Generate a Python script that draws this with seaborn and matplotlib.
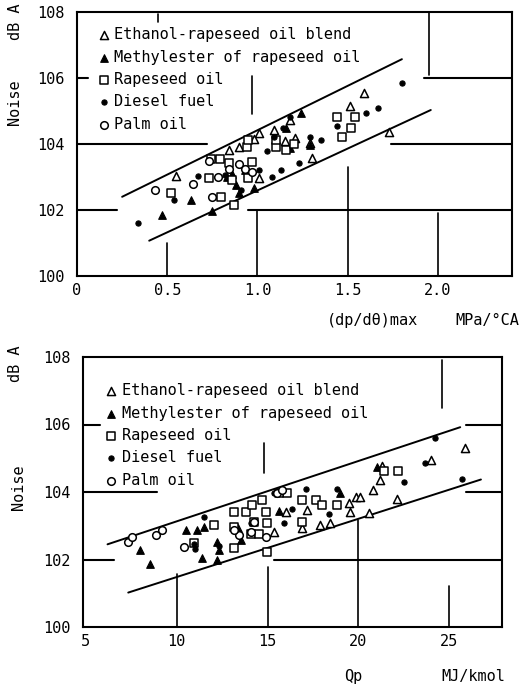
import matplotlib
matplotlib.use("Agg")
import matplotlib.pyplot as plt
import seaborn as sns
import pandas as pd

sns.set_theme(style="white")
plt.rcParams['font.family'] = ['DejaVu Sans Mono', 'DejaVu Sans']

fuels = ["Ethanol-rapeseed oil blend", "Methylester of rapeseed oil",
         "Rapeseed oil", "Diesel fuel", "Palm oil"]

# ---------- top panel: (dp/dθ)max ----------
eth_x1 = [0.55, 0.84, 1.01, 0.98, 1.09, 1.18, 1.21, 1.29, 1.30, 1.51, 1.59, 1.73, 1.01, 0.90, 1.15]
eth_y1 = [103.03, 103.82, 104.32, 104.15, 104.42, 104.73, 104.17, 104.02, 103.57, 105.15, 105.56, 104.37, 102.96, 103.90, 104.10]
met_x1 = [0.47, 0.63, 0.75, 0.90, 0.98, 0.88, 1.16, 1.24, 0.86, 0.83, 1.18, 1.29, 0.93]
met_y1 = [101.85, 102.30, 101.98, 102.53, 102.66, 102.76, 104.50, 104.93, 103.10, 103.00, 103.87, 103.97, 103.20]
rap_x1 = [0.52, 0.80, 0.87, 0.73, 0.74, 0.79, 0.84, 0.94, 0.95, 0.97, 0.95, 1.10, 1.16, 1.44, 1.54, 1.52, 1.47, 0.86, 1.10, 1.20]
rap_y1 = [102.53, 102.38, 102.15, 102.96, 103.54, 103.54, 103.41, 103.92, 104.12, 103.46, 102.96, 103.92, 103.82, 104.83, 104.83, 104.47, 104.22, 102.90, 104.12, 104.00]
die_x1 = [0.34, 0.54, 0.67, 0.91, 1.13, 1.08, 1.23, 1.29, 1.35, 1.44, 1.60, 1.67, 1.80, 1.09, 1.14, 1.18, 1.05, 0.75, 1.01, 0.82]
die_y1 = [101.60, 102.30, 103.04, 102.60, 103.21, 103.01, 103.43, 104.22, 104.12, 104.55, 104.95, 105.10, 105.86, 104.22, 104.50, 104.83, 103.80, 102.40, 103.21, 103.05]
pal_x1 = [0.43, 0.64, 0.75, 0.73, 0.84, 0.78, 0.93, 0.97, 0.90]
pal_y1 = [102.60, 102.79, 102.40, 103.50, 103.25, 103.00, 103.25, 103.15, 103.40]

band_top_x1 = [0.25, 1.80]
band_top_y1 = [102.40, 106.57]
band_low_x1 = [0.40, 1.96]
band_low_y1 = [101.07, 105.03]

xticks1 = [0, 0.5, 1.0, 1.5, 2.0]
xticklabels1 = ["0", "0.5", "1.0", "1.5", "2.0"]

# ---------- bottom panel: Qp ----------
eth_x2 = [25.88, 24.01, 22.13, 21.30, 20.80, 19.56, 19.84, 20.10, 19.50, 17.18, 16.90, 17.88, 18.46, 15.35, 15.99, 20.57, 21.20]
eth_y2 = [105.30, 104.95, 103.78, 104.77, 104.06, 103.42, 103.86, 103.85, 103.66, 103.47, 102.92, 103.02, 103.07, 102.82, 103.42, 103.37, 104.36]
met_x2 = [7.98, 8.53, 10.53, 11.41, 12.23, 12.32, 12.20, 11.10, 11.50, 13.35, 13.52, 19.00, 21.00, 15.60]
met_y2 = [102.28, 101.86, 102.87, 102.03, 101.98, 102.28, 102.52, 102.87, 102.95, 102.92, 102.57, 103.96, 104.75, 103.45]
rap_x2 = [10.95, 12.05, 13.15, 13.15, 13.79, 14.16, 14.70, 14.98, 14.98, 14.89, 16.08, 15.60, 16.90, 16.90, 17.64, 18.00, 18.83, 22.20, 21.40, 14.07, 14.52, 13.15, 14.25]
rap_y2 = [102.48, 103.02, 103.42, 102.33, 103.42, 103.61, 103.76, 102.23, 103.09, 103.42, 103.96, 103.96, 103.76, 103.12, 103.76, 103.61, 103.61, 104.62, 104.62, 102.77, 102.77, 102.97, 103.12]
die_x2 = [24.23, 23.68, 22.53, 17.09, 15.90, 16.36, 18.80, 18.40, 11.50, 11.00, 14.07, 15.35, 25.70, 10.95, 12.30]
die_y2 = [105.59, 104.85, 104.31, 104.08, 103.09, 103.51, 104.10, 103.35, 103.27, 102.30, 103.09, 103.96, 104.38, 102.45, 102.40]
pal_x2 = [7.29, 7.56, 8.85, 9.21, 10.40, 13.42, 14.07, 14.89, 14.25, 15.53, 13.15, 15.80]
pal_y2 = [102.52, 102.67, 102.72, 102.87, 102.38, 102.72, 102.82, 102.67, 103.12, 103.96, 102.87, 104.05]

band_top_x2 = [6.19, 25.60]
band_top_y2 = [102.45, 105.92]
band_low_x2 = [7.33, 26.74]
band_low_y2 = [101.02, 104.37]

xticks2 = [5, 10, 15, 20, 25]
xticklabels2 = ["5", "10", "15", "20", "25"]

yticks = [100, 102, 104, 106, 108]
yticklabels = ["100", "102", "104", "106", "108"]

styles = {
    fuels[0]: dict(marker="^", facecolor="white", edgecolor="black", s=34, linewidth=1.1),
    fuels[1]: dict(marker="^", facecolor="black", edgecolor="black", s=30, linewidth=0.8),
    fuels[2]: dict(marker="s", facecolor="white", edgecolor="black", s=40, linewidth=1.1),
    fuels[3]: dict(marker="o", facecolor="black", edgecolor="black", s=14, linewidth=0.8),
    fuels[4]: dict(marker="o", facecolor="white", edgecolor="black", s=30, linewidth=1.1),
}

def frame(xs, ys, name):
    return pd.DataFrame({"x": xs, "y": ys, "fuel": name})

df1 = pd.concat([frame(eth_x1, eth_y1, fuels[0]), frame(met_x1, met_y1, fuels[1]),
                 frame(rap_x1, rap_y1, fuels[2]), frame(die_x1, die_y1, fuels[3]),
                 frame(pal_x1, pal_y1, fuels[4])], ignore_index=True)
df2 = pd.concat([frame(eth_x2, eth_y2, fuels[0]), frame(met_x2, met_y2, fuels[1]),
                 frame(rap_x2, rap_y2, fuels[2]), frame(die_x2, die_y2, fuels[3]),
                 frame(pal_x2, pal_y2, fuels[4])], ignore_index=True)

W, H = 521, 689
fig = plt.figure(figsize=(W / 100, H / 100), dpi=100)
fig.patch.set_facecolor("white")

def px_rect(l, t, r, b):
    return [l / W, 1 - b / H, (r - l) / W, (b - t) / H]

ax1 = fig.add_axes(px_rect(77, 12, 512, 276))
ax2 = fig.add_axes(px_rect(83, 357, 502, 627))

def draw(ax, df, btx, bty, blx, bly, xlim, xticks, xticklabels, hsegs, vsegs, legend_anchor):
    ax.set_facecolor("white")
    ax.set_xlim(*xlim)
    ax.set_ylim(100, 108)
    x0, x1 = xlim
    for y, a, b in hsegs:
        ax.axhline(y, xmin=(a - x0) / (x1 - x0), xmax=(b - x0) / (x1 - x0), color="black", lw=1.5)
    for x, a, b in vsegs:
        ax.axvline(x, ymin=(a - 100) / 8, ymax=(b - 100) / 8, color="black", lw=1.2)
    sns.lineplot(x=btx, y=bty, ax=ax, color="black", lw=1.4)
    sns.lineplot(x=blx, y=bly, ax=ax, color="black", lw=1.4)
    for f in fuels:
        sub = df[df["fuel"] == f]
        sns.scatterplot(data=sub, x="x", y="y", ax=ax, label=f, zorder=3, **styles[f])
    ax.set_xticks(xticks)
    ax.set_xticklabels(xticklabels)
    ax.set_yticks(yticks)
    ax.set_yticklabels(yticklabels)
    ax.tick_params(axis="both", length=0, labelsize=11, colors="black")
    ax.tick_params(axis="y", pad=9)
    ax.tick_params(axis="x", pad=5)
    ax.set_xlabel("")
    ax.set_ylabel("")
    for sp in ax.spines.values():
        sp.set_color("black")
        sp.set_linewidth(1.5)
    leg = ax.legend(loc="upper left", bbox_to_anchor=legend_anchor, frameon=False,
                    fontsize=11, handletextpad=0.2, labelspacing=0.48,
                    handlelength=1.0, borderaxespad=0)
    for t in leg.get_texts():
        t.set_color("black")

draw(ax1, df1, band_top_x1, band_top_y1, band_low_x1, band_low_y1, (0, 2.41),
     xticks1, xticklabels1,
     hsegs=[(102, 0, 0.22), (102, 0.95, 2.41), (104, 0, 0.72), (104, 1.74, 2.41),
            (106, 0, 0.06), (106, 1.92, 2.41)],
     vsegs=[(0.5, 100, 101.0), (1.0, 100, 102.0), (0.97, 104.9, 106.05), (1.5, 100, 103.3),
            (2.0, 100, 101.9), (1.95, 106.1, 108), (0.45, 107.7, 107.95)],
     legend_anchor=(0.03, 0.965))

draw(ax2, df2, band_top_x2, band_top_y2, band_low_x2, band_low_y2, (4.84, 27.9),
     xticks2, xticklabels2,
     hsegs=[(102, 4.84, 6.56), (102, 15.33, 27.9), (104, 4.84, 8.94), (104, 25.9, 27.9),
            (106, 4.84, 5.8), (106, 25.9, 27.9)],
     vsegs=[(10, 100, 101.58), (15, 100, 101.78), (14.8, 104.55, 105.45), (20, 100, 103.17),
            (25, 100, 101.2), (24.6, 106.5, 107.9)],
     legend_anchor=(0.035, 0.925))

def ftext(x, y, s, **kw):
    fig.text(x / W, 1 - y / H, s, ha="center", va="center", fontsize=11, color="black", **kw)

ftext(15, 22, "dB A", rotation=90)
ftext(15, 102, "Noise", rotation=90)
ftext(373, 320, "(dp/dθ)max")
ftext(487, 320, "MPa/°CA")
ftext(16, 364, "dB A", rotation=90)
ftext(18, 487, "Noise", rotation=90)
ftext(353, 677, "Qp")
ftext(473, 677, "MJ/kmol")

fig.savefig("out.png", dpi=100, facecolor="white")
